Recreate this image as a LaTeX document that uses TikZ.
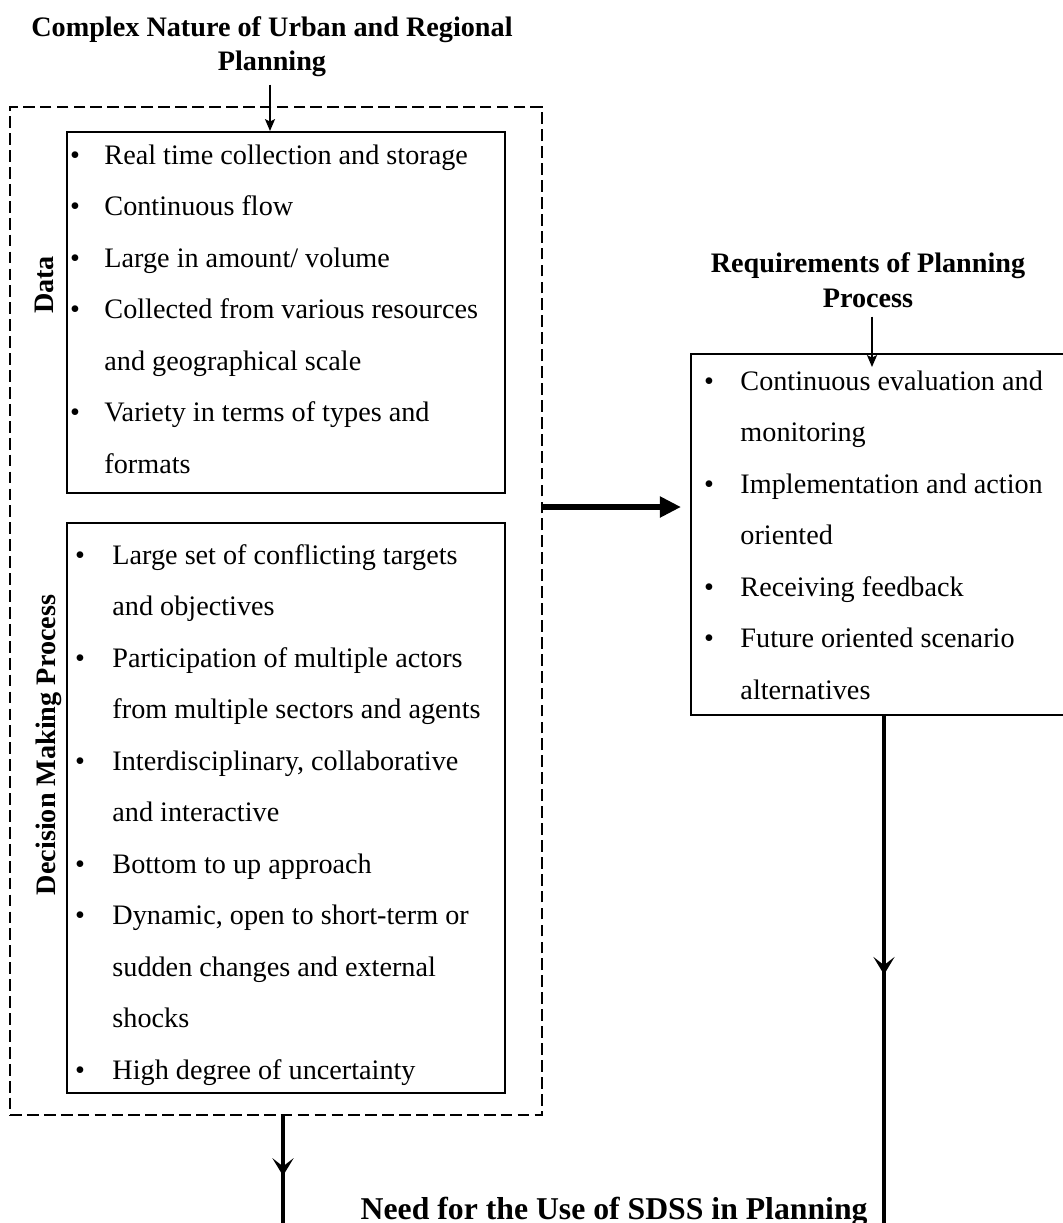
\documentclass[tikz,border=0pt]{standalone}
\usepackage{fontspec}
\setmainfont{Liberation Serif}
\usetikzlibrary{arrows.meta,calc,fit,decorations.markings}
\begin{document}
\begin{tikzpicture}[x=0.4255pt,y=-0.4255pt,
  box/.style={draw, line width=0.85pt, inner sep=0pt},
  group/.style={draw, line width=0.6pt, dash pattern=on 5pt off 2.2pt, inner sep=0pt},
  item/.style={font=\fontsize{12}{14}\selectfont, anchor=base west, inner sep=0pt},
  dot/.style={font=\fontsize{12}{14}\selectfont, anchor=base, inner sep=0pt},
  head/.style={font=\bfseries\fontsize{12}{14}\selectfont, anchor=base, inner sep=0pt},
  side/.style={font=\bfseries\fontsize{12}{14}\selectfont, rotate=90, anchor=base, inner sep=0pt},
  thinarrow/.style={line width=0.85pt, -{Stealth[length=5pt,width=4.2pt,inset=1pt]}},
  bigarrow/.style={line width=2.6pt, -{Triangle[length=9pt,width=8.5pt]}},
  flow/.style={line width=1.3pt, postaction=decorate,
    decoration={markings, mark=at position #1 with {\arrow{Stealth[length=7.5pt,width=9pt,inset=3.5pt]}}}},
]
\useasboundingbox (0,0) rectangle (1063,1223);

% headings
\node[head] (t1) at (272,36) {Complex Nature of Urban and Regional};
\node[head] (t2) at (272,70) {Planning};
\node[head] (r1) at (868,272) {Requirements of Planning};
\node[head] (r2) at (868,307) {Process};

% frames
\node[group, fit={(10,107) (542,1115)}] (outer) {};
\node[box, fit={(67,132) (505,493)}] (data) {};
\node[box, fit={(67,523) (505,1093)}] (dmp) {};
\node[box, fit={(691,354) (1075,715)}] (req) {};

% side labels
\node[side] (dlab) at (53,285) {Data};
\node[side] (mlab) at (55,745) {Decision Making Process};

% data characteristics
\foreach \t [count=\i] in {Real time collection and storage, Continuous flow, Large in amount/ volume,
  Collected from various resources, and geographical scale, Variety in terms of types and, formats}
  \node[item] (d\i) at (104,{164+51.5*(\i-1)}) {\t};
\foreach \i in {1,2,3,4,6}
  \node[dot] (db\i) at (75,{164+51.5*(\i-1)}) {•};

% decision making characteristics
\foreach \t [count=\i] in {Large set of conflicting targets, and objectives, Participation of multiple actors,
  from multiple sectors and agents, {Interdisciplinary, collaborative}, and interactive,
  Bottom to up approach, {Dynamic, open to short-term or}, sudden changes and external, shocks,
  High degree of uncertainty}
  \node[item] (m\i) at (112,{564+51.5*(\i-1)}) {\t};
\foreach \i in {1,3,5,7,8,11}
  \node[dot] (mb\i) at (80,{564+51.5*(\i-1)}) {•};

% planning process requirements
\foreach \t [count=\i] in {Continuous evaluation and, monitoring, Implementation and action, oriented,
  Receiving feedback, Future oriented scenario, alternatives}
  \node[item] (q\i) at (740,{390+51.5*(\i-1)}) {\t};
\foreach \i in {1,3,5,6}
  \node[dot] (qb\i) at (709,{390+51.5*(\i-1)}) {•};

% connectors
\draw[thinarrow] ($(t2.south)+(-2,8)$) -- ($(t2.south |- data.north)+(-2,0)$);
\draw[thinarrow] ($(r2.south)+(4,9)$) -- ($(r2.south |- req.north)+(4,14)$);
\coordinate (mid) at (0,507);
\draw[bigarrow] (outer.east |- mid) -- ($(req.west |- mid)+(-9,0)$);
\coordinate (ldown) at (283,1223);
\coordinate (rdown) at (884,1223);
\draw[flow=0.56] (outer.south -| ldown) -- (ldown);
\draw[flow=0.51] (req.south -| rdown) -- (rdown);

\node[font=\bfseries\fontsize{13.5}{16}\selectfont, anchor=base east, inner sep=0pt] (need) at (868,1219)
  {Need for the Use of SDSS in Planning};
\end{tikzpicture}
\end{document}
